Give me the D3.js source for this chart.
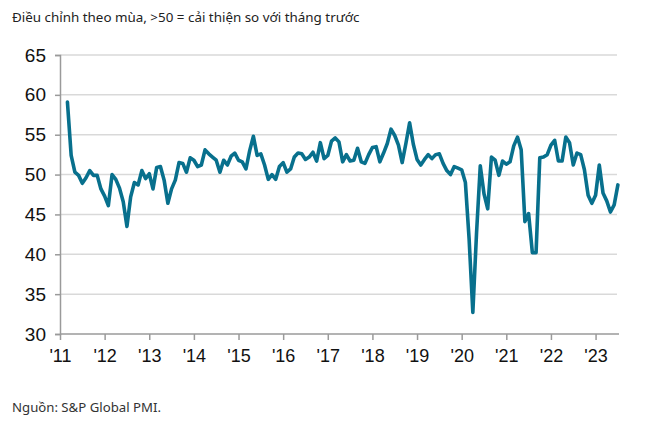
<!DOCTYPE html>
<html>
<head>
<meta charset="utf-8">
<script src="https://cdn.jsdelivr.net/npm/d3@7"></script>
<style>
  html, body { margin: 0; padding: 0; background: #fff; }
  svg { display: block; }
</style>
</head>
<body>
<svg id="chart" width="658" height="422"></svg>
<script>
// Monthly PMI readings, March 2011 – July 2023
const startMonth = 2; // March 2011 (months since Jan 2011)
const pmi2011 = [59.1, 52.4, 50.3, 49.9, 48.9, 49.6, 50.5, 49.9, 49.9, 48.2];
const pmi2012 = [47.3, 46.1, 50.0, 49.4, 48.3, 46.6, 43.5, 47.2, 49.0, 48.7, 50.5, 49.5];
const pmi2013 = [50.1, 48.2, 50.9, 51.0, 49.3, 46.4, 48.2, 49.3, 51.5, 51.4, 50.3, 52.1];
const pmi2014 = [51.8, 51.0, 51.2, 53.1, 52.6, 52.2, 51.8, 50.3, 51.8, 51.2, 52.3, 52.7];
const pmi2015 = [51.8, 51.6, 50.7, 53.0, 54.8, 52.4, 52.6, 51.2, 49.4, 50.0, 49.4, 51.0];
const pmi2016 = [51.5, 50.3, 50.7, 52.2, 52.7, 52.6, 51.9, 52.2, 52.8, 51.7, 54.0, 52.0];
const pmi2017 = [52.4, 54.2, 54.6, 54.1, 51.6, 52.5, 51.7, 51.8, 53.3, 51.6, 51.4, 52.5];
const pmi2018 = [53.4, 53.5, 51.6, 52.7, 53.9, 55.7, 54.9, 53.7, 51.5, 53.9, 56.5, 53.8];
const pmi2019 = [51.9, 51.2, 51.9, 52.5, 52.0, 52.5, 52.6, 51.4, 50.5, 50.0, 51.0, 50.8];
const pmi2020 = [50.6, 49.0, 41.9, 32.7, 42.7, 51.1, 47.6, 45.7, 52.2, 51.8, 49.9, 51.7];
const pmi2021 = [51.3, 51.6, 53.6, 54.7, 53.1, 44.1, 45.1, 40.2, 40.2, 52.1, 52.2, 52.5];
const pmi2022 = [53.7, 54.3, 51.7, 51.7, 54.7, 54.0, 51.2, 52.7, 52.5, 50.6, 47.4, 46.4];
const pmi2023 = [47.4, 51.2, 47.7, 46.7, 45.3, 46.2, 48.7];

const yearLabels = ["'11","'12","'13","'14","'15","'16","'17","'18","'19","'20","'21","'22","'23"];
const yTicks = [30, 35, 40, 45, 50, 55, 60, 65];
const subtitle = "Điều chỉnh theo mùa, >50 = cải thiện so với tháng trước";
const source = "Nguồn: S&P Global PMI.";

const values = [].concat(pmi2011, pmi2012, pmi2013, pmi2014, pmi2015, pmi2016,
  pmi2017, pmi2018, pmi2019, pmi2020, pmi2021, pmi2022, pmi2023);
const data = values.map((v, i) => ({ m: startMonth + i, v }));

const svg = d3.select("#chart");
const plotL = 60, plotR = 619, plotT = 55, plotB = 334;

const x = d3.scaleLinear().domain([0, 150.3]).range([plotL, plotR]);
const y = d3.scaleLinear().domain([30, 65]).range([plotB, plotT]);

// subtitle
svg.append("text")
  .attr("x", 12).attr("y", 22)
  .attr("font-family", "'Noto Sans', 'Open Sans', sans-serif")
  .attr("font-size", 13.4)
  .attr("fill", "#222")
  .text(subtitle);

// gridlines
svg.append("g")
  .selectAll("line")
  .data(yTicks.filter(t => t > 30))
  .join("line")
  .attr("x1", plotL).attr("x2", plotR - 2)
  .attr("y1", d => y(d)).attr("y2", d => y(d))
  .attr("stroke", "#d9d9d9").attr("stroke-width", 1.5);

// y axis
const yAxis = svg.append("g")
  .attr("transform", `translate(${plotL},0)`)
  .call(d3.axisLeft(y).tickValues(yTicks).tickSize(5).tickPadding(9).tickFormat(d3.format("d")));
yAxis.select(".domain").attr("stroke", "#9a9a9a").attr("stroke-width", 1.5);
yAxis.selectAll(".tick line").attr("stroke", "#9a9a9a").attr("stroke-width", 1.5);
yAxis.selectAll(".tick text")
  .attr("font-family", "'Liberation Sans', Arial, sans-serif")
  .attr("font-size", 19).attr("fill", "#111");

// x axis
const xAxis = svg.append("g")
  .attr("transform", `translate(0,${plotB})`)
  .call(d3.axisBottom(x)
    .tickValues(yearLabels.map((d, i) => i * 12))
    .tickSize(6).tickPadding(9)
    .tickFormat((d, i) => yearLabels[i]));
xAxis.select(".domain").attr("stroke", "#9a9a9a").attr("stroke-width", 1.5)
  .attr("d", `M${plotL},0H${plotR}`);
xAxis.selectAll(".tick line").attr("stroke", "#9a9a9a").attr("stroke-width", 1.5);
xAxis.selectAll(".tick text")
  .attr("font-family", "'Liberation Sans', Arial, sans-serif")
  .attr("font-size", 18).attr("fill", "#111");

// line
const line = d3.line().x(d => x(d.m)).y(d => y(d.v)).curve(d3.curveLinear);
svg.append("path")
  .datum(data)
  .attr("fill", "none")
  .attr("stroke", "#08708d")
  .attr("stroke-width", 3.6)
  .attr("stroke-linejoin", "round")
  .attr("stroke-linecap", "round")
  .attr("d", line);

// source
svg.append("text")
  .attr("x", 12).attr("y", 412)
  .attr("font-family", "'Noto Sans', 'Open Sans', sans-serif")
  .attr("font-size", 13.2)
  .attr("fill", "#333")
  .text(source);
</script>
</body>
</html>
